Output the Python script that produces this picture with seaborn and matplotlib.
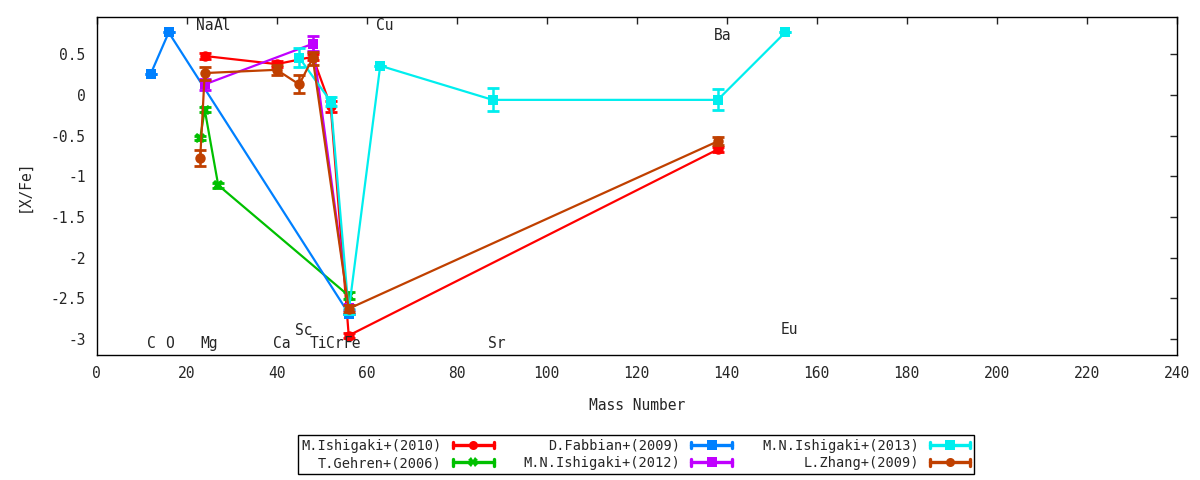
import matplotlib
matplotlib.use("Agg")
import matplotlib.pyplot as plt
import seaborn as sns
from matplotlib.lines import Line2D
from matplotlib.legend_handler import HandlerBase

# Data ([X/Fe] against mass number)
ishigaki10_A = [24, 40, 48, 52, 56, 138]
ishigaki10_y = [0.48, 0.38, 0.47, -0.14, -2.96, -0.67]
ishigaki10_e = [0.04, 0.04, 0.04, 0.07, 0.03, 0.03]

gehren06_A = [23, 24, 27, 56]
gehren06_y = [-0.53, -0.18, -1.11, -2.47]
gehren06_e = [0.03, 0.03, 0.03, 0.04]

fabbian09_A = [12, 16, 56]
fabbian09_y = [0.26, 0.77, -2.69]
fabbian09_e = [0.0, 0.0, 0.0]

ishigaki12_A = [24, 48, 56]
ishigaki12_y = [0.13, 0.63, -2.62]
ishigaki12_e = [0.07, 0.09, 0.03]

ishigaki13_A = [45, 52, 56, 63, 88, 138, 153]
ishigaki13_y = [0.46, -0.08, -2.66, 0.36, -0.06, -0.06, 0.77]
ishigaki13_e = [0.12, 0.05, 0.03, 0.0, 0.14, 0.13, 0.0]

zhang09_A = [23, 24, 40, 45, 48, 56, 138]
zhang09_y = [-0.775, 0.27, 0.31, 0.13, 0.455, -2.63, -0.57]
zhang09_e = [0.1, 0.08, 0.06, 0.11, 0.08, 0.04, 0.05]

labels = ["M.Ishigaki+(2010)", "T.Gehren+(2006)", "D.Fabbian+(2009)",
          "M.N.Ishigaki+(2012)", "M.N.Ishigaki+(2013)", "L.Zhang+(2009)"]
colors = ["#ff0000", "#00c000", "#0080ff", "#c000ff", "#00eeee", "#c04000"]
markers = ["o", "X", "s", "s", "s", "o"]

series = [(ishigaki10_A, ishigaki10_y, ishigaki10_e),
          (gehren06_A, gehren06_y, gehren06_e),
          (fabbian09_A, fabbian09_y, fabbian09_e),
          (ishigaki12_A, ishigaki12_y, ishigaki12_e),
          (ishigaki13_A, ishigaki13_y, ishigaki13_e),
          (zhang09_A, zhang09_y, zhang09_e)]

# element name labels
elem_names = ["C", "O", "Na", "Mg", "Al", "Ca", "Sc", "Ti", "Cr", "Fe",
              "Cu", "Sr", "Ba", "Eu"]
elem_x = [12.1, 16.2, 23.9, 25, 28, 41.2, 45.9, 49.2, 53, 56.7,
          64.1, 89, 139, 154]
elem_y = [-3.06, -3.06, 0.85, -3.06, 0.85, -3.06, -2.9, -3.06, -3.06, -3.06,
          0.85, -3.06, 0.73, -2.89]


class CapLineHandler(HandlerBase):
    # gnuplot style legend key: line with end caps and a marker in the middle
    def create_artists(self, legend, orig, xd, yd, width, height, fontsize, trans):
        y = (height - yd) / 2
        x0, x1 = -xd, width - xd
        c = orig.get_color()
        h = height * 0.35
        line = Line2D([x0, x1], [y, y], color=c, lw=2.4)
        cap0 = Line2D([x0, x0], [y - h, y + h], color=c, lw=2.4)
        cap1 = Line2D([x1, x1], [y - h, y + h], color=c, lw=2.4)
        mk = Line2D([(x0 + x1) / 2], [y], color=c, marker=orig.get_marker(),
                    ms=6.5, mew=0, linestyle="none")
        arts = [line, cap0, cap1, mk]
        for a in arts:
            a.set_transform(trans)
        return arts


sns.set_style("white")
plt.rcParams["font.family"] = ["DejaVu Sans Mono"]
plt.rcParams["axes.unicode_minus"] = False

fig = plt.figure(figsize=(12, 4.8), dpi=100)
ax = fig.add_axes([0.0806, 0.2604, 0.9, 0.7042])

for (A, y, e), lab, c, m in zip(series, labels, colors, markers):
    sns.lineplot(x=A, y=y, ax=ax, color=c, marker=m, markersize=7.5,
                 markeredgewidth=0, linewidth=1.6, sort=False, legend=False)
    ax.errorbar(A, y, yerr=e, fmt="none", ecolor=c, elinewidth=1.8,
                capsize=4, capthick=2)

for name, xx, yy in zip(elem_names, elem_x, elem_y):
    ax.text(xx, yy, name, ha="center", va="center", fontsize=10.5)

ax.set_xlim(0, 240)
ax.set_ylim(-3.2, 0.96)
ax.set_xticks(range(0, 241, 20))
ax.set_yticks([-3, -2.5, -2, -1.5, -1, -0.5, 0, 0.5])
ax.set_yticklabels(["-3", "-2.5", "-2", "-1.5", "-1", "-0.5", "0", "0.5"])
ax.tick_params(direction="in", top=True, right=True, length=5, width=1,
               labelsize=10.5, pad=8)
for sp in ax.spines.values():
    sp.set_color("black")
    sp.set_linewidth(1)
ax.set_xlabel("Mass Number", fontsize=10.5, labelpad=12)
ax.set_ylabel("[X/Fe]", fontsize=10.5, labelpad=14)

handles = [Line2D([], [], color=c, marker=m) for c, m in zip(colors, markers)]
leg = fig.legend(handles, labels, loc="center", bbox_to_anchor=(0.53, 0.053),
                 ncol=3, markerfirst=False, fontsize=9.8, frameon=True,
                 fancybox=False, edgecolor="black", framealpha=1,
                 handlelength=3.0, columnspacing=2.2, handletextpad=0.8,
                 borderpad=0.3, labelspacing=0.25,
                 handler_map={Line2D: CapLineHandler()})
leg.get_frame().set_linewidth(1)

fig.savefig("out.png", dpi=100)
